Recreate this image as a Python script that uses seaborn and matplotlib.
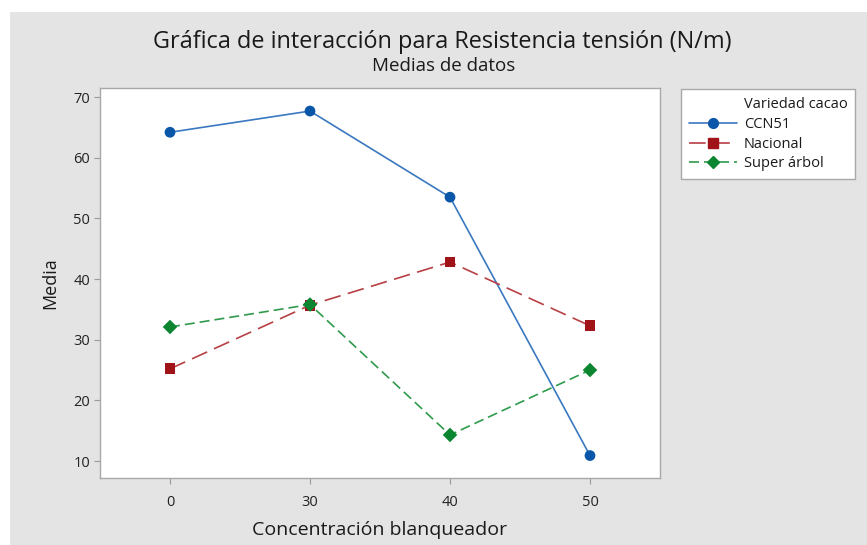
import matplotlib
matplotlib.use("Agg")
import matplotlib.pyplot as plt
import seaborn as sns
import pandas as pd
from matplotlib.patches import Rectangle
from matplotlib.lines import Line2D

# ---- data ----
concentracion = ["0", "30", "40", "50"]
ccn51 = [64.2, 67.7, 53.5, 10.9]
nacional = [25.2, 35.7, 42.8, 32.3]
super_arbol = [32.1, 35.8, 14.3, 25.0]
variedades = ["CCN51", "Nacional", "Super árbol"]

df = pd.DataFrame({
    "Concentración blanqueador": concentracion * 3,
    "Media": ccn51 + nacional + super_arbol,
    "Variedad cacao": [v for v in variedades for _ in concentracion],
})

sns.set_theme(style="white")
plt.rcParams["font.family"] = ["Open Sans", "DejaVu Sans"]

BG = "#e4e4e4"
colors = {"CCN51": "#0a56a8", "Nacional": "#a01419", "Super árbol": "#0b8530"}
line_colors = {"CCN51": "#3a78c0", "Nacional": "#b84045", "Super árbol": "#2f9a4c"}
markers = {"CCN51": "o", "Nacional": "s", "Super árbol": "D"}
dashes = {"CCN51": "", "Nacional": (10, 4.5), "Super árbol": (6, 3)}

fig = plt.figure(figsize=(8.67, 5.45), dpi=100, facecolor="white")
fig.patches.append(Rectangle((10 / 867, 0), 1, 1 - 12 / 545, transform=fig.transFigure,
                             facecolor=BG, edgecolor="none", zorder=-10))
ax = fig.add_axes([100 / 867, 1 - 478 / 545, 560 / 867, 390 / 545])
ax.set_facecolor("white")

sns.lineplot(data=df, x="Concentración blanqueador", y="Media", hue="Variedad cacao",
             style="Variedad cacao", palette=line_colors, dashes=dashes, markers=False,
             linewidth=1.2, ax=ax, legend=False, sort=False)

# markers on top with darker colours
for v in variedades:
    sub = df[df["Variedad cacao"] == v]
    sns.scatterplot(data=sub, x="Concentración blanqueador", y="Media", color=colors[v],
                    marker=markers[v], s=60 if v != "Super árbol" else 55,
                    edgecolor="none", ax=ax, legend=False, zorder=5)

ax.set_xlim(-0.5, 3.5)
ax.set_ylim(7.2, 71.5)
ax.set_yticks([10, 20, 30, 40, 50, 60, 70])
for s in ax.spines.values():
    s.set_color("#a8a8a8")
    s.set_linewidth(1.0)
ax.tick_params(axis="both", which="major", direction="out", length=4, width=0.8,
               color="#9a9a9a", labelsize=10.5, labelcolor="#222222", pad=3,
               bottom=True, left=True)
ax.tick_params(axis="x", pad=8)
ax.set_xlabel("Concentración blanqueador", fontsize=14, color="#1a1a1a", labelpad=8)
ax.set_ylabel("Media", fontsize=13, color="#1a1a1a", labelpad=10)

fig.text(442 / 867, 1 - 42 / 545, "Gráfica de interacción para Resistencia tensión (N/m)",
         ha="center", va="center", fontsize=16.9, color="#1a1a1a")
fig.text(444 / 867, 1 - 66 / 545, "Medias de datos", ha="center", va="center",
         fontsize=13.5, color="#1a1a1a")

handles = [Line2D([], [], linestyle="none", marker=None)]
labels = ["Variedad cacao"]
for v in variedades:
    ls = "-" if v == "CCN51" else (0, dashes[v])
    handles.append(Line2D([], [], color=line_colors[v], linestyle=ls, linewidth=1.2,
                          marker=markers[v], markerfacecolor=colors[v],
                          markeredgecolor=colors[v], markersize=7 if v != "Super árbol" else 6.5))
    labels.append(v)
leg = fig.legend(handles, labels, loc="upper left", bbox_to_anchor=(681 / 867, 1 - 89 / 545),
                 bbox_transform=fig.transFigure, frameon=True, fancybox=False,
                 framealpha=1.0, fontsize=10.5, handlelength=3.3, handletextpad=0.45,
                 borderpad=0.55, labelspacing=0.33, borderaxespad=0)
leg.get_frame().set_edgecolor("#a8a8a8")
leg.get_frame().set_facecolor("white")
leg.get_frame().set_linewidth(1.0)
for t in leg.get_texts():
    t.set_color("#1a1a1a")

fig.savefig("out.png", dpi=100, facecolor=fig.get_facecolor())
